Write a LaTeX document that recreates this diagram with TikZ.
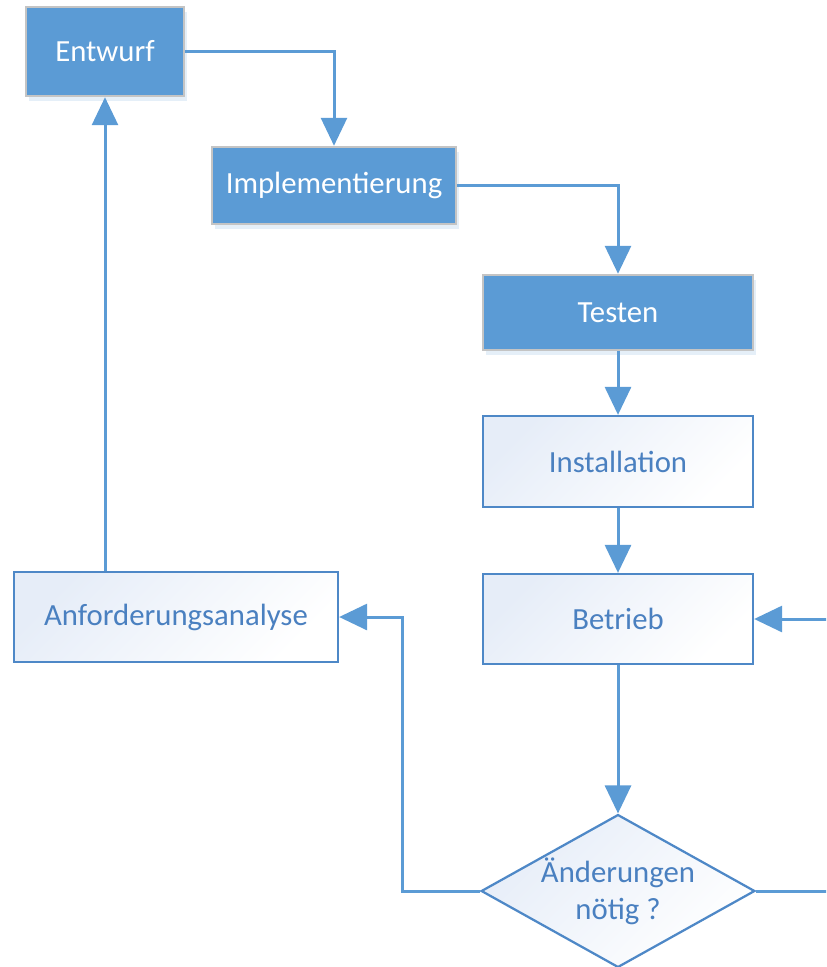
\documentclass[tikz,border=0pt]{standalone}
\usepackage{fontspec}
\setmainfont{Carlito}
\usetikzlibrary{shapes.geometric,arrows.meta,shadows}

\definecolor{fillblue}{HTML}{5B9BD5}
\definecolor{lineblue}{HTML}{4E88C7}
\definecolor{textblue}{HTML}{4A80C0}
\definecolor{shadeblue}{HTML}{E6EDF8}
\definecolor{rimgray}{HTML}{C4C4C4}

\begin{document}
\begin{tikzpicture}
  [
    x=0.02cm, y=-0.02cm,
    >={Triangle[length=0.56cm,width=0.52cm]},
    link/.style      = {draw=fillblue, line width=0.06cm, ->},
    fullbox/.style   = {rectangle, fill=fillblue, draw=rimgray, line width=0.05cm,
                        text=white, font=\fontsize{17.5}{21}\selectfont, inner sep=0pt,
                        drop shadow={shadow xshift=0.06cm, shadow yshift=-0.1cm,
                                     fill=fillblue!35, opacity=0.45}},
    emptybox/.style  = {rectangle, draw=lineblue, line width=0.045cm,
                        left color=shadeblue, right color=white, shading angle=45,
                        text=textblue, font=\fontsize{17.5}{21}\selectfont, inner sep=0pt},
    decision/.style  = {diamond, draw=lineblue, line width=0.045cm,
                        left color=shadeblue, right color=white, shading angle=45,
                        text=textblue, font=\fontsize{17.5}{21}\selectfont, inner sep=0pt,
                        align=center, aspect=1.79},
  ]

%Size of one pixel of the reference
\def \px{0.02cm}

\useasboundingbox (0,0) rectangle (826,967);
\clip (0,0) rectangle (826,967);

%Boxes of the cycle
\node[fullbox, minimum width={158*\px}, minimum height={89*\px}] (ent) at (105,51.5) {Entwurf};
\node[fullbox, minimum width={244*\px}, minimum height={77*\px}] (impl) at (334,185.5) {Implementierung};
\node[fullbox, minimum width={270*\px}, minimum height={75*\px}] (test) at (618,312.5) {Testen};
\node[emptybox, minimum width={270*\px}, minimum height={91*\px}] (inst) at (618,461.5) {Installation};
\node[emptybox, minimum width={270*\px}, minimum height={90*\px}] (betr) at (618,619) {Betrieb};
\node[emptybox, minimum width={324*\px}, minimum height={90*\px}] (anf) at (176,617) {Anforderungsanalyse};
\node[decision, minimum width={268*\px}, minimum height={150*\px}] (aend) at (618,891) {Änderungen\\nötig ?};

%Bends of the loops
\coordinate (lknee) at (402,891);
\coordinate (rknee) at (860,891);

%Connectors
\draw[link] (ent.east) -| (impl.north);
\draw[link] (impl.east) -| (test.north);
\draw[link] (test) -- (inst);
\draw[link] (inst) -- (betr);
\draw[link] (betr) -- (aend);
\draw[link] (aend.west) -- (lknee) |- (anf.east);
\draw[link] (ent.south |- anf.north) -- (ent.south);
\draw[link] (aend.east) -- (rknee) |- (betr.east);

\end{tikzpicture}
\end{document}
